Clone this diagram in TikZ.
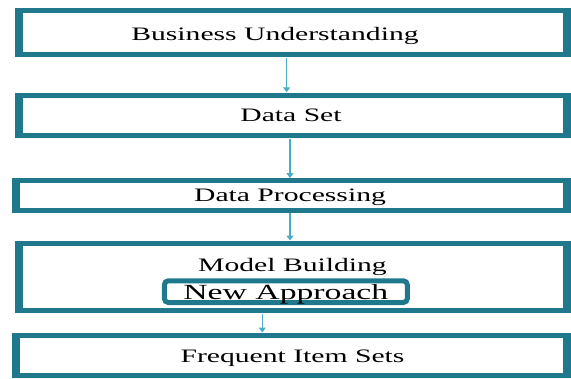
\documentclass[tikz,border=0pt]{standalone}
\usepackage{fontspec}
\setmainfont{Liberation Serif}
\usetikzlibrary{arrows.meta}

\definecolor{boxteal}{RGB}{31,120,139}
\definecolor{flowblue}{RGB}{75,172,198}
\newcommand{\widetext}[1]{\scalebox{1.56}[1]{#1}}

\begin{document}
\begin{tikzpicture}[x=1pt, y=-1pt,
    stage/.style={fill=boxteal, inner sep=0pt,
      path picture={\fill[white] ([xshift=8pt,yshift=-5pt]path picture bounding box.north west)
        rectangle ([xshift=-8pt,yshift=5pt]path picture bounding box.south east);}},
    stagetext/.style={anchor=base, inner sep=0pt, font=\fontsize{19}{19}\selectfont},
    approach/.style={draw=boxteal, fill=white, line width=5pt, rounded corners=4pt,
      inner sep=0pt, minimum width=243pt, minimum height=21.7pt,
      text height=14.75pt, text depth=0pt, font=\fontsize{21.6}{21.6}\selectfont},
    flow/.style={draw=flowblue, line width=1.5pt, -{Triangle[width=7pt,length=5pt]}}]

      \useasboundingbox (0, 0) rectangle (571, 378);

      % the five stages
      \node[stage, minimum width=555.7pt, minimum height=49pt] (bu) at (293.15, 32.8) {};
      \node[stage, minimum width=555.7pt, minimum height=45.8pt] (ds) at (293.15, 115.4) {};
      \node[stage, minimum width=559.3pt, minimum height=34.4pt] (dp) at (291.35, 195.5) {};
      \node[stage, minimum width=555.7pt, minimum height=72.6pt] (mb) at (293.15, 277) {};
      \node[stage, minimum width=559.3pt, minimum height=45.3pt] (fis) at (291.35, 355.35) {};

      \node[stagetext] (butext) at (275, 40) {\widetext{Business Understanding}};
      \node[stagetext] (dstext) at (291, 121.7) {\widetext{Data Set}};
      \node[stagetext] (dptext) at (290, 201.7) {\widetext{Data Processing}};
      \node[stagetext] (mbtext) at (292.5, 271.7) {\widetext{Model Building}};
      \node[stagetext] (fistext) at (292.5, 362) {\widetext{Frequent Item Sets}};

      \node[approach] (na) at (285.85, 291.65) {\widetext{New Approach}};

      % flow between stages
      \draw[flow] ([xshift=-6.5pt]bu.south) -- ([xshift=-6.5pt]bu.south |- ds.north);
      \draw[flow] ([xshift=-3.15pt]ds.south) -- ([xshift=-3.15pt]ds.south |- dp.north);
      \draw[flow] ([xshift=-1.35pt]dp.south) -- ([xshift=-1.35pt]dp.south |- mb.north);
      \draw[flow] ([xshift=-30.85pt]mb.south) -- ([xshift=-30.85pt]mb.south |- fis.north);
    \end{tikzpicture}
\end{document}
